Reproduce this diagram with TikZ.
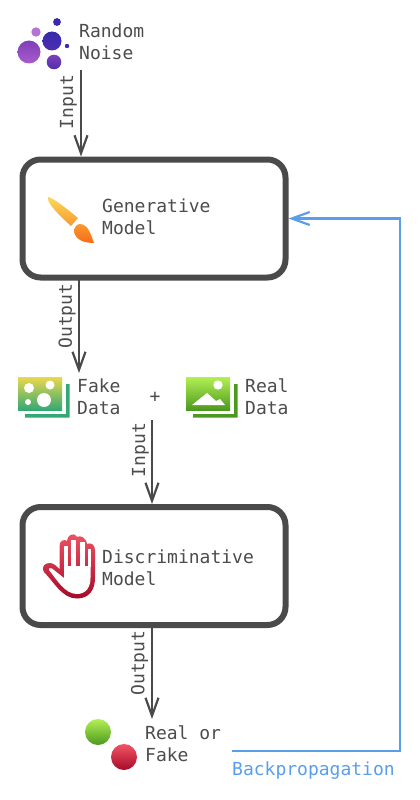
\documentclass[tikz,border=0pt]{standalone}
\usepackage{fontspec}
\setmonofont{DejaVu Sans Mono}
\usetikzlibrary{arrows.meta}
\definecolor{ink}{rgb}{0.29,0.29,0.29}
\definecolor{txt}{rgb}{0.3,0.3,0.3}
\definecolor{backblue}{rgb}{0.35,0.62,0.92}
\definecolor{deepblue}{rgb}{0.22,0.16,0.68}
\definecolor{violet1}{rgb}{0.66,0.36,0.80}
\definecolor{violet2}{rgb}{0.50,0.25,0.72}
\definecolor{yellowa}{rgb}{0.92,0.85,0.30}
\definecolor{tealb}{rgb}{0.20,0.66,0.45}
\definecolor{limea}{rgb}{0.70,0.94,0.33}
\definecolor{leafb}{rgb}{0.30,0.60,0.12}
\definecolor{reda}{rgb}{0.95,0.33,0.40}
\definecolor{redb}{rgb}{0.65,0.04,0.16}
\definecolor{brusha}{rgb}{0.98,0.85,0.35}
\definecolor{brushb}{rgb}{0.98,0.60,0.18}
\definecolor{brushc}{rgb}{0.97,0.42,0.10}
\tikzset{
  modelbox/.style={draw=ink,line width=6pt,rounded corners=18pt,minimum width=263pt,minimum height=118pt,fill=white},
  caption/.style={font=\ttfamily\fontsize{18pt}{22pt}\selectfont,text=txt,align=left,inner sep=0pt,anchor=west},
  sidelabel/.style={font=\ttfamily\fontsize{18pt}{22pt}\selectfont,text=txt,inner sep=0pt,rotate=90},
  flow/.style={draw=ink,line width=2.2pt,-{Straight Barb[length=18pt,width=13pt,line width=2.2pt]}},
  backflow/.style={draw=backblue,line width=2.2pt,-{Straight Barb[length=18pt,width=13pt,line width=2.2pt]}}
}
\begin{document}
\begin{tikzpicture}[x=1pt,y=-1pt]
\useasboundingbox (0,0) rectangle (420,800);
\node[modelbox] (gen) at (154,218.5) {};
\node[modelbox] (disc) at (154,566) {};
\node[caption] (noise) at (79,42) {Random\\Noise};
\node[caption] (gentxt) at (102,217) {Generative\\Model};
\node[caption] (fake) at (77,397) {Fake\\Data};
\node[caption] (real) at (245,397) {Real\\Data};
\node[font=\ttfamily\fontsize{18pt}{22pt}\selectfont,text=txt,inner sep=0pt] (plus) at (155,397) {+};
\node[caption] (disctxt) at (102,568) {Discriminative\\Model};
\node[caption] (verdict) at (145,744) {Real or\\Fake};
\node[caption,text=backblue] (backtxt) at (232,771) {Backpropagation};
\coordinate (noiseout) at (81,70);
\coordinate (genout) at (79,280);
\coordinate (fakein) at (79,373);
\coordinate (mixout) at (152,420);
\coordinate (discout) at (152,628);
\coordinate (verdictin) at (152,719);
\coordinate (backstart) at (232,751);
\coordinate (backturn) at (400,751);
\draw[flow] (noiseout) -- (noiseout |- gen.north);
\draw[flow] (genout) -- (fakein);
\draw[flow] (mixout) -- (mixout |- disc.north);
\draw[flow] (discout) -- (verdictin);
\draw[backflow] (backstart) -- (backturn) -- (backturn |- gen.east) -- (gen.east);
\node[sidelabel] (input1) at (68.5,102) {Input};
\node[sidelabel] (output1) at (67,316) {Output};
\node[sidelabel] (input2) at (140.5,450) {Input};
\node[sidelabel] (output2) at (139.5,663) {Output};
% noise
\fill[deepblue] (57,22) circle (3.9);
\fill[violet1!85!white] (36,32) circle (4.7);
\shade[top color=deepblue,bottom color=deepblue!75!violet2] (52,41) circle (9.5);
\shade[top color=violet2,bottom color=violet1] (29,52) circle (11.5);
\fill[deepblue] (67,46) circle (2.2);
\shade[top color=violet2,bottom color=deepblue!70!violet2] (54,62) circle (7.3);
% brush
\shade[top color=brusha,bottom color=brushb] (48,197) .. controls (52,197) and (66,208) .. (78,218) -- (71,226) .. controls (62,218) and (46,203) .. (48,197) -- cycle;
\shade[top color=brushb,bottom color=brushc] (80,224) .. controls (88,225) and (90,232) .. (94,243) .. controls (84,243) and (76,240) .. (74,232) .. controls (74,228) and (76,224) .. (80,224) -- cycle;
% fake data
\fill[tealb] (25,414) -- (66,414) -- (66,384) -- (69.5,384) -- (69.5,417.5) -- (25,417.5) -- cycle;
\shade[top color=yellowa,bottom color=tealb] (18,377) rectangle (62,410);
\fill[white] (29,388) circle (5) (50,385) circle (4.5) (28,402) circle (3) (44,400) circle (7);
% real data
\fill[leafb] (193,414) -- (234,414) -- (234,384) -- (237.5,384) -- (237.5,417.5) -- (193,417.5) -- cycle;
\shade[top color=limea,bottom color=leafb] (186,377) rectangle (230,410);
\fill[white] (218,385) circle (4.7);
\fill[white] (192,405) -- (207,393) -- (216,401) -- (220,399) -- (225,405) -- cycle;
% hand
\shade[top color=reda,bottom color=redb] (77,598.5) .. controls (62,598.5) and (54,582) .. (44,572) .. controls (41,566) and (45,563) .. (50,563) .. controls (54,563) and (57,567) .. (59.5,569) -- (59.5,546) .. controls (59.5,540) and (65,539) .. (67,541) .. controls (67,536) and (73,531) .. (77,537) .. controls (80,535) and (86,537) .. (87,544) .. controls (91,542) and (95,545) .. (95,550) -- (95,578) .. controls (95,590) and (89,598.5) .. (77,598.5) -- cycle;
\fill[white] (77,594) .. controls (65,594) and (57,580) .. (49,570) .. controls (48,568) and (50,567.5) .. (52,568.5) -- (64,578) -- (64,566) -- (90.5,566) -- (90.5,578) .. controls (90.5,587) and (86,594) .. (77,594) -- cycle;
\foreach \sl/\sr/\st in {63.7/67.5/546,70.7/76.2/540,79.6/85/541.5,88.2/91/549} {
  \fill[white] (\sl,\st) rectangle (\sr,567);
}
% verdict balls
\shade[top color=limea,bottom color=leafb] (98,732) circle (13);
\shade[top color=reda,bottom color=redb] (124,757) circle (13);
\end{tikzpicture}
\end{document}
